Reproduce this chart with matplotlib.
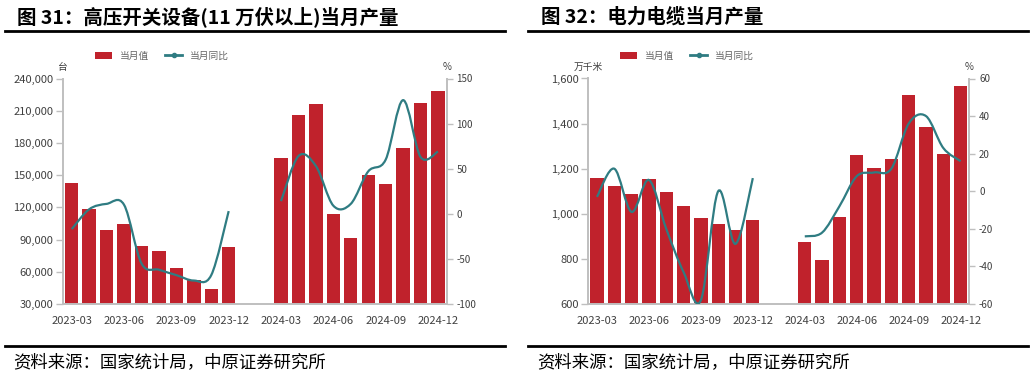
import numpy as np
import matplotlib
matplotlib.use("Agg")
import matplotlib.pyplot as plt
from matplotlib.path import Path
from matplotlib.patches import PathPatch, Patch
from matplotlib.lines import Line2D
from matplotlib.ticker import FuncFormatter

plt.rcParams['font.family'] = ['Noto Sans CJK SC', 'DejaVu Sans']
plt.rcParams['axes.unicode_minus'] = False

# %% data
months = ['2023-03', '2023-04', '2023-05', '2023-06', '2023-07', '2023-08',
          '2023-09', '2023-10', '2023-11', '2023-12', '2024-01', '2024-02',
          '2024-03', '2024-04', '2024-05', '2024-06', '2024-07', '2024-08',
          '2024-09', '2024-10', '2024-11', '2024-12']
tick_months = ['2023-03', '2023-06', '2023-09', '2023-12',
               '2024-03', '2024-06', '2024-09', '2024-12']

nan = np.nan
hv_output = [143100, 118500, 98500, 104600, 83900, 79000, 63200, 52300, 43700, 82700,
             nan, nan,
             165900, 205600, 216100, 113600, 91300, 150500, 141500, 175200, 217400, 228200]
hv_yoy = [-17, 5, 11, 10, -55, -62, -68, -74, -68, 3,
          nan, nan,
          14, 64, 53, 9, 11, 47, 60, 126, 63, 69]

cable_output = [1160, 1122, 1089, 1155, 1097, 1035, 982, 954, 926, 971,
                nan, nan,
                873, 797, 986, 1259, 1204, 1241, 1525, 1387, 1263, 1566]
cable_yoy = [-3, 12, -11, 6, -20, -43, -58, 0, -28, 7,
             nan, nan,
             -24, -22, -8, 8, 10, 12, 36, 40, 23, 16]

RED = '#C0222C'
TEAL = '#2F7C82'
GREY = '#BFBFBF'
TXT = '#404040'


def smooth_path(x, y):
    # catmull-rom -> cubic bezier, drawn by matplotlib's Path
    pts = np.column_stack([x, y])
    verts = [pts[0]]
    codes = [Path.MOVETO]
    n = len(pts)
    for i in range(n - 1):
        p0 = pts[max(i - 1, 0)]
        p1 = pts[i]
        p2 = pts[i + 1]
        p3 = pts[min(i + 2, n - 1)]
        verts += [p1 + (p2 - p0) / 6, p2 - (p3 - p1) / 6, p2]
        codes += [Path.CURVE4] * 3
    return Path(verts, codes)


def draw_panel(fig, rect, values, yoy, ylim, yticks, fmt, ylim2, yticks2, unit, title, tx, lx):
    ax = fig.add_axes(rect)
    x = np.arange(len(months))
    vals = np.array(values, dtype=float)
    ax.bar(x, vals, width=0.77, color=RED, zorder=2)
    ax.set_xlim(-0.5, len(months) - 0.5)
    ax.set_ylim(*ylim)
    ax.set_yticks(yticks)
    ax.yaxis.set_major_formatter(FuncFormatter(fmt))
    ax.set_xticks([months.index(m) for m in tick_months])
    ax.set_xticklabels(tick_months)
    for s in ['top', 'right']:
        ax.spines[s].set_visible(False)
    for s in ['left', 'bottom']:
        ax.spines[s].set_color(GREY)
        ax.spines[s].set_linewidth(1.4)
    ax.tick_params(axis='x', length=0, pad=9, labelsize=8, labelcolor=TXT)
    ax.tick_params(axis='y', length=5, width=1, color=GREY, pad=2, labelsize=8, labelcolor=TXT)

    ax2 = ax.twinx()
    ax2.set_ylim(*ylim2)
    ax2.set_yticks(yticks2)
    for s in ['top', 'left', 'bottom']:
        ax2.spines[s].set_visible(False)
    ax2.spines['right'].set_color(GREY)
    ax2.spines['right'].set_linewidth(1.4)
    ax2.tick_params(axis='y', length=4, width=1, color=GREY, pad=3, labelsize=7, labelcolor=TXT)

    yy = np.array(yoy, dtype=float)
    # two separate runs (2024-01/02 missing)
    ok = ~np.isnan(yy)
    start = None
    for i in range(len(yy) + 1):
        if i < len(yy) and ok[i]:
            if start is None:
                start = i
        elif start is not None:
            p = smooth_path(x[start:i], yy[start:i])
            ax2.add_patch(PathPatch(p, facecolor='none', edgecolor=TEAL, lw=1.6, zorder=3))
            start = None

    ax.text(0.0, 1.05, unit, transform=ax.transAxes, ha='center', va='center', fontsize=7, color=TXT)
    ax.text(1.0, 1.05, '%', transform=ax.transAxes, ha='center', va='center', fontsize=7, color=TXT)

    handles = [Patch(facecolor=RED, edgecolor='none'),
               Line2D([0], [0], color=TEAL, lw=2, marker='o', markersize=3)]
    ax.legend(handles, ['当月值', '当月同比'], loc='center left', bbox_to_anchor=(0.06, 1.10),
              ncol=2, frameon=False, fontsize=7, labelcolor='#666666',
              handlelength=1.8, handleheight=0.8, columnspacing=1.6, handletextpad=0.8)

    fig.text(tx, 1 - 17 / 378, title, fontsize=14, fontweight='bold', ha='left', va='center')
    fig.add_artist(Line2D([lx[0] / 1034, lx[1] / 1034], [1 - 31 / 378] * 2, color='black', lw=2))
    fig.add_artist(Line2D([lx[0] / 1034, lx[1] / 1034], [1 - 346 / 378] * 2, color='black', lw=2))
    fig.text(tx - 4 / 1034, 1 - 362 / 378, '资料来源：国家统计局，中原证券研究所', fontsize=12.5,
             ha='left', va='center')
    return ax


fig = plt.figure(figsize=(10.34, 3.78), dpi=100)
fig.patch.set_facecolor('white')

bottom = 1 - 304 / 378
height = (304 - 78.5) / 378

draw_panel(fig, [63 / 1034, bottom, (446.7 - 63) / 1034, height],
           hv_output, hv_yoy, (30000, 240000), np.arange(30000, 240001, 30000),
           lambda v, p: f'{int(v):,}', (-100, 150), [-100, -50, 0, 50, 100, 150],
           '台', '图 31：高压开关设备(11 万伏以上)当月产量', 17 / 1034, (5, 505))

draw_panel(fig, [588.3 / 1034, bottom, (969.3 - 588.3) / 1034, height],
           cable_output, cable_yoy, (600, 1600), np.arange(600, 1601, 200),
           lambda v, p: f'{int(v):,}', (-60, 60), [-60, -40, -20, 0, 20, 40, 60],
           '万千米', '图 32：电力电缆当月产量', 541 / 1034, (528, 1028))

fig.savefig('out.png', dpi=100)
